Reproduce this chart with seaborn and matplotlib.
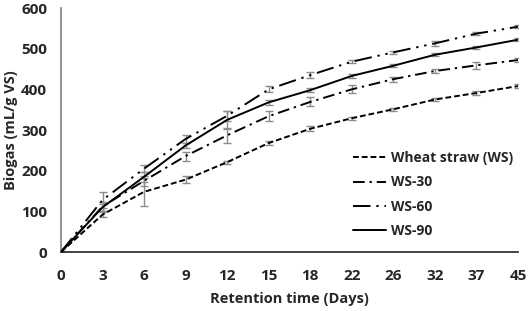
import numpy as np
import pandas as pd
import seaborn as sns
import matplotlib.pyplot as plt

days = ["0", "3", "6", "9", "12", "15", "18", "22", "26", "32", "37", "45"]
ws = [0, 92, 148, 178, 221, 268, 303, 329, 351, 375, 391, 408]
ws30 = [0, 112, 175, 236, 287, 334, 369, 400, 425, 445, 459, 472]
ws60 = [0, 128, 205, 278, 335, 400, 435, 468, 491, 513, 537, 554]
ws90 = [0, 110, 185, 262, 325, 368, 398, 433, 458, 485, 503, 522]
ws_err = [0, 6, 35, 8, 4, 4, 6, 4, 4, 4, 4, 4]
ws30_err = [0, 10, 12, 11, 18, 12, 11, 10, 6, 4, 8, 4]
ws60_err = [0, 20, 8, 10, 12, 7, 7, 4, 4, 7, 4, 4]
ws90_err = [0, 8, 12, 6, 22, 7, 5, 4, 4, 4, 4, 4]

names = ["Wheat straw (WS)", "WS-30", "WS-60", "WS-90"]
series = [ws, ws30, ws60, ws90]
errors = [ws_err, ws30_err, ws60_err, ws90_err]
dashes = [(3, 1.5), (6, 2.5, 1.2, 2.5), (9, 3, 1.2, 3, 1.2, 3), ""]

sns.set_style("white")
plt.rcParams["font.family"] = ["Open Sans", "DejaVu Sans"]
plt.rcParams["font.weight"] = "bold"

fig = plt.figure(figsize=(5.29, 3.11), dpi=100)
ax = fig.add_axes([61 / 529, 1 - 252 / 311, 457 / 529, 244 / 311])

pos = np.arange(len(days))
for name, vals, err, d in zip(names, series, errors, dashes):
    df = pd.DataFrame({"pos": pos, "val": vals})
    ax.errorbar(pos, vals, yerr=err, fmt="none", ecolor="#8c8c8c",
                elinewidth=1, capsize=3, capthick=1, zorder=1)
    sns.lineplot(data=df, x="pos", y="val", ax=ax, color="black",
                 linewidth=1.4, label=name, zorder=3)
    l = ax.lines[-1]
    if d:
        l.set_dashes(d)

ax.set_xlim(0, len(days) - 1)
ax.set_ylim(0, 600)
ax.set_xticks(pos)
ax.set_xticklabels(days)
ax.set_yticks(range(0, 601, 100))
ax.tick_params(axis="x", length=0, labelsize=11, pad=12)
ax.tick_params(axis="y", length=0, labelsize=11, pad=10)
for t in ax.get_xticklabels() + ax.get_yticklabels():
    t.set_fontweight("bold")
ax.set_xlabel("Retention time (Days)", fontsize=10.5, fontweight="bold", labelpad=7)
ax.set_ylabel("Biogas (mL/g VS)", fontsize=10.5, fontweight="bold", labelpad=2)
for s in ["top", "right"]:
    ax.spines[s].set_visible(False)
ax.spines["left"].set_color("#808080")
ax.spines["bottom"].set_color("#222222")
ax.spines["left"].set_linewidth(1.2)
ax.spines["bottom"].set_linewidth(1.2)

leg = ax.legend(loc="center left", bbox_to_anchor=(0.611, 0.235), frameon=False,
                prop={"size": 10, "weight": "bold"}, handlelength=2.4,
                handletextpad=0.35, labelspacing=0.75)

fig.savefig("out.png", dpi=100)
